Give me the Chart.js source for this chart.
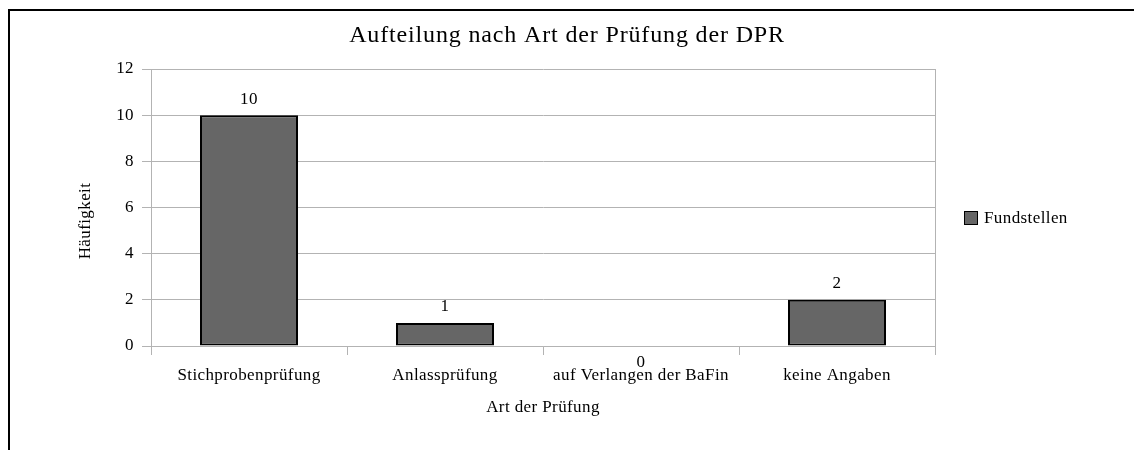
<!DOCTYPE html>
<html>
<head>
<meta charset="utf-8">
<script src="https://cdn.jsdelivr.net/npm/chart.js@4/dist/chart.umd.min.js"></script>
<style>
  html, body { margin: 0; padding: 0; background: #fff; }
  #wrap { position: relative; width: 1134px; height: 450px; overflow: hidden; }
  #frame { position: absolute; left: 8px; top: 9px; width: 2000px; height: 1000px;
           border-left: 2px solid #000; border-top: 2px solid #000; }
  #chart { position: absolute; left: 0; top: 0; }
</style>
</head>
<body>
<div id="wrap">
  <div id="frame"></div>
  <canvas id="chart" width="1134" height="450"></canvas>
</div>
<script>
  const chartTitle = "Aufteilung nach Art der Prüfung der DPR";
  const categories = ["Stichprobenprüfung", "Anlassprüfung", "auf Verlangen der BaFin", "keine Angaben"];
  const seriesName = "Fundstellen";
  const counts = [10, 1, 0, 2];
  const xTitle = "Art der Prüfung";
  const yTitle = "Häufigkeit";

  const serif = "'Liberation Serif', 'Times New Roman', serif";
  const gridGray = "#b3b3b3";
  const barFill = "#666666";
  const spacing = "0.4px"; // the office export spreads its glyphs a little

  Chart.defaults.font.family = serif;
  Chart.defaults.font.size = 17;
  Chart.defaults.color = "#000";

  const letterSpacing = {
    id: "letterSpacing",
    beforeUpdate(chart) { chart.ctx.letterSpacing = spacing; },
    beforeDraw(chart) { chart.ctx.letterSpacing = spacing; }
  };

  // title, y title, legend, value labels and the right edge of the plot wall
  const extras = {
    id: "extras",
    afterDatasetsDraw(chart) {
      const { ctx, chartArea } = chart;
      ctx.save();

      ctx.strokeStyle = gridGray;
      ctx.lineWidth = 1;
      ctx.beginPath();
      ctx.moveTo(Math.round(chartArea.right) + 0.5, chartArea.top);
      ctx.lineTo(Math.round(chartArea.right) + 0.5, chartArea.bottom);
      ctx.stroke();

      ctx.fillStyle = "#000";
      ctx.textAlign = "center";
      ctx.textBaseline = "alphabetic";
      ctx.letterSpacing = "0.85px";
      ctx.font = "24px " + serif;
      ctx.fillText(chartTitle, 567, 42);
      ctx.letterSpacing = spacing;

      ctx.font = "17px " + serif;
      ctx.textBaseline = "middle";
      ctx.save();
      ctx.translate(86, 221);
      ctx.rotate(-Math.PI / 2);
      ctx.fillText(yTitle, 0, 0);
      ctx.restore();

      const meta = chart.getDatasetMeta(0);
      meta.data.forEach((bar, i) => {
        const y = counts[i] > 0 ? bar.y - 16 : bar.base + 17;
        ctx.fillText(String(counts[i]), bar.x, y);
      });

      ctx.fillStyle = barFill;
      ctx.fillRect(964.5, 211.5, 13, 13);
      ctx.strokeStyle = "#000";
      ctx.strokeRect(964.5, 211.5, 13, 13);
      ctx.fillStyle = "#000";
      ctx.textAlign = "left";
      ctx.fillText(seriesName, 984, 219);

      ctx.restore();
    }
  };

  new Chart(document.getElementById("chart"), {
    type: "bar",
    data: {
      labels: categories,
      datasets: [{
        label: seriesName,
        data: counts,
        backgroundColor: barFill,
        borderColor: "#000",
        borderWidth: 2,
        borderSkipped: false,
        categoryPercentage: 0.5,
        barPercentage: 1.0
      }]
    },
    options: {
      responsive: false,
      devicePixelRatio: 1,
      animation: false,
      layout: { padding: { top: 69, right: 199, bottom: 32, left: 76 } },
      plugins: {
        legend: { display: false },
        tooltip: { enabled: false }
      },
      scales: {
        x: {
          afterFit: (scale) => { scale.height = 72; },
          grid: {
            offset: true,
            drawOnChartArea: false,
            color: gridGray,
            tickLength: 9
          },
          border: { color: gridGray },
          ticks: { padding: 10, color: "#000", maxRotation: 0, autoSkip: false },
          title: {
            display: true,
            text: xTitle,
            color: "#000",
            padding: { top: 0, bottom: 0 }
          }
        },
        y: {
          min: 0,
          max: 12,
          afterFit: (scale) => { scale.width = 75; },
          grid: { color: gridGray, tickLength: 9 },
          border: { color: gridGray },
          ticks: { stepSize: 2, padding: 8, color: "#000" }
        }
      }
    },
    plugins: [letterSpacing, extras]
  });
</script>
</body>
</html>
